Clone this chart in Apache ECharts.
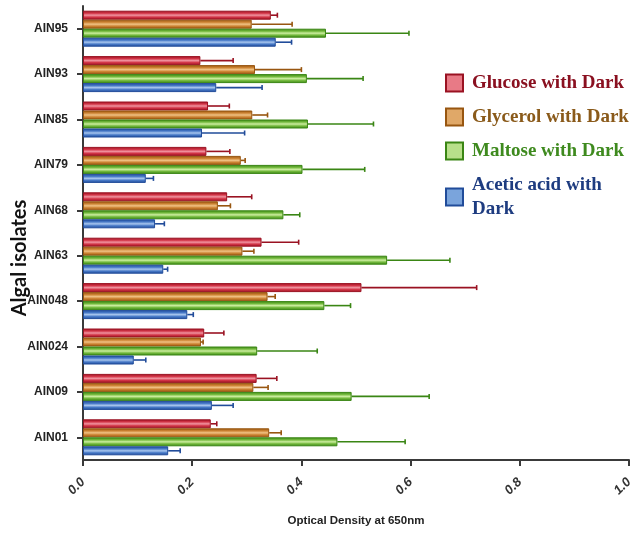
<!DOCTYPE html>
<html>
<head>
<meta charset="utf-8">
<script src="https://cdn.jsdelivr.net/npm/echarts@6/dist/echarts.min.js"></script>
<style>
  html, body { margin: 0; padding: 0; background: #fff; }
  #chart { width: 641px; height: 535px; }
</style>
</head>
<body>
<div id="chart"></div>
<script>
// Algal isolates, listed top to bottom
const categories = ['AIN95', 'AIN93', 'AIN85', 'AIN79', 'AIN68', 'AIN63', 'AIN048', 'AIN024', 'AIN09', 'AIN01'];

// Mean optical density at 650 nm and the + error for each carbon source
const glucose    = [0.344, 0.215, 0.229, 0.226, 0.264, 0.327, 0.510, 0.222, 0.318, 0.234];
const glucoseSd  = [0.012, 0.060, 0.039, 0.043, 0.045, 0.068, 0.211, 0.036, 0.037, 0.011];
const glycerol   = [0.309, 0.315, 0.310, 0.289, 0.247, 0.292, 0.338, 0.216, 0.312, 0.341];
const glycerolSd = [0.074, 0.085, 0.028, 0.008, 0.023, 0.021, 0.014, 0.004, 0.027, 0.022];
const maltose    = [0.445, 0.410, 0.412, 0.402, 0.367, 0.557, 0.442, 0.319, 0.492, 0.466];
const maltoseSd  = [0.152, 0.103, 0.120, 0.114, 0.030, 0.115, 0.048, 0.110, 0.142, 0.124];
const acetic     = [0.353, 0.244, 0.218, 0.115, 0.132, 0.147, 0.191, 0.093, 0.236, 0.156];
const aceticSd   = [0.029, 0.084, 0.078, 0.014, 0.017, 0.008, 0.011, 0.022, 0.039, 0.022];

const xTicks = [0.0, 0.2, 0.4, 0.6, 0.8, 1.0];

const groups = [
  { name: 'Glucose with Dark', values: glucose, sd: glucoseSd,
    dark: '#9a1222', mid: '#d23446', light: '#f094a0', icon: '#e87a86', text: '#8a1020' },
  { name: 'Glycerol with Dark', values: glycerol, sd: glycerolSd,
    dark: '#985610', mid: '#cc8232', light: '#f0c284', icon: '#e0a868', text: '#8a5a1a' },
  { name: 'Maltose with Dark', values: maltose, sd: maltoseSd,
    dark: '#3a8614', mid: '#72b83c', light: '#cdeea0', icon: '#b8e08a', text: '#3e8a1e' },
  { name: 'Acetic acid with Dark', values: acetic, sd: aceticSd,
    dark: '#214c9a', mid: '#4678c6', light: '#a8c6ee', icon: '#7aa4dc', text: '#1e3c80' }
];

const BAR_W = 9;
const nGroups = groups.length;

function barGradient(g) {
  return new echarts.graphic.LinearGradient(0, 0, 0, 1, [
    { offset: 0, color: g.dark },
    { offset: 0.28, color: g.mid },
    { offset: 0.5, color: g.light },
    { offset: 0.72, color: g.mid },
    { offset: 1, color: g.dark }
  ]);
}

const series = [];
groups.forEach(function (g) {
  series.push({
    name: g.name,
    type: 'bar',
    data: g.values,
    barWidth: BAR_W,
    barGap: '0%',
    itemStyle: { color: barGradient(g), borderColor: g.dark, borderWidth: 1 },
    emphasis: { disabled: true },
    z: 2
  });
});

// One-sided error whiskers drawn on the value/category scales
groups.forEach(function (g, gi) {
  series.push({
    name: g.name,
    type: 'custom',
    data: g.values.map(function (v, i) { return [i, v, v + g.sd[i]]; }),
    encode: { x: [1, 2], y: 0 },
    z: 3,
    silent: true,
    renderItem: function (params, api) {
      const cat = api.value(0);
      const start = api.coord([api.value(1), cat]);
      const end = api.coord([api.value(2), cat]);
      const off = (gi - (nGroups - 1) / 2) * BAR_W;
      const y = start[1] + off;
      const capH = 2.5;
      return {
        type: 'group',
        children: [
          { type: 'line', shape: { x1: start[0], y1: y, x2: end[0], y2: y },
            style: { stroke: g.dark, lineWidth: 1.6 } },
          { type: 'line', shape: { x1: end[0], y1: y - capH, x2: end[0], y2: y + capH },
            style: { stroke: g.dark, lineWidth: 1.6 } }
        ]
      };
    }
  });
});

const chart = echarts.init(document.getElementById('chart'), null, { renderer: 'canvas' });
chart.setOption({
  animation: false,
  backgroundColor: '#ffffff',
  grid: { left: 83, right: 12, top: 6, bottom: 75, containLabel: false, outerBoundsMode: 'none' },
  legend: {
    orient: 'vertical',
    left: 440,
    top: 66,
    itemWidth: 17,
    itemHeight: 17,
    itemGap: 10,
    icon: 'rect',
    selectedMode: false,
    data: groups.map(function (g) {
      return {
        name: g.name,
        itemStyle: { color: g.icon, borderColor: g.dark, borderWidth: 2 },
        textStyle: { color: g.text }
      };
    }),
    formatter: function (name) {
      return name === 'Acetic acid with Dark' ? 'Acetic acid with\nDark' : name;
    },
    textStyle: {
      fontFamily: 'Liberation Serif',
      fontWeight: 'bold',
      fontSize: 19,
      lineHeight: 24,
      padding: [0, 0, 0, 4]
    }
  },
  xAxis: {
    type: 'value',
    min: xTicks[0],
    max: xTicks[xTicks.length - 1],
    interval: 0.2,
    name: 'Optical Density at 650nm',
    nameLocation: 'middle',
    nameGap: 55,
    nameMoveOverlap: false,
    nameTextStyle: { fontFamily: 'Liberation Sans', fontWeight: 'bold', fontSize: 11.5, color: '#222' },
    axisLine: { show: true, lineStyle: { color: '#3a3a3a', width: 2 } },
    axisTick: { show: true, length: 6, lineStyle: { color: '#3a3a3a', width: 2 } },
    splitLine: { show: false },
    axisLabel: {
      rotate: 45,
      margin: 20,
      fontFamily: 'Liberation Sans',
      fontWeight: 'bold',
      fontStyle: 'italic',
      fontSize: 13,
      color: '#333',
      formatter: function (v) { return v.toFixed(1); }
    }
  },
  yAxis: {
    type: 'category',
    data: categories,
    inverse: true,
    name: 'Algal isolates',
    nameLocation: 'middle',
    nameRotate: 90,
    nameGap: 53,
    nameMoveOverlap: false,
    nameTextStyle: {
      fontFamily: 'Lato', fontWeight: 'bold', fontSize: 20, color: '#111',
      padding: [0, 50, 0, 0]
    },
    axisLine: { show: true, lineStyle: { color: '#3a3a3a', width: 2 } },
    axisTick: { show: true, alignWithLabel: true, length: 6, lineStyle: { color: '#3a3a3a', width: 2 } },
    axisLabel: {
      margin: 15,
      fontFamily: 'Liberation Sans',
      fontWeight: 'bold',
      fontSize: 12,
      color: '#222'
    }
  },
  series: series
});
</script>
</body>
</html>
